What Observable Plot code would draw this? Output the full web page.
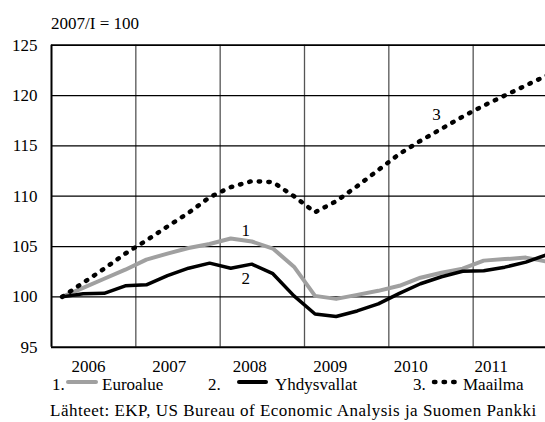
<!DOCTYPE html>
<html><head><meta charset="utf-8">
<script src="https://cdn.jsdelivr.net/npm/d3@7"></script>
<script src="https://cdn.jsdelivr.net/npm/@observablehq/plot@0.6"></script>
<style>
html,body{margin:0;padding:0;background:#fff;overflow:hidden;}
#wrap{position:relative;width:545px;height:422px;font-family:"Liberation Serif","Times New Roman",Times,"DejaVu Serif","Noto Serif",serif;font-size:17px;color:#000;overflow:hidden;}
#wrap svg.plot{position:absolute;left:0;top:0;}
.t{position:absolute;white-space:nowrap;line-height:17px;}
.sw{position:absolute;overflow:visible;}
</style></head><body><div id="wrap"></div>
<script>
// ---- data ----
const quarters = ["2006Q1","2006Q2","2006Q3","2006Q4","2007Q1","2007Q2","2007Q3","2007Q4",
  "2008Q1","2008Q2","2008Q3","2008Q4","2009Q1","2009Q2","2009Q3","2009Q4",
  "2010Q1","2010Q2","2010Q3","2010Q4","2011Q1","2011Q2","2011Q3","2011Q4"];
const euro  = [100, 100.9, 101.8, 102.7, 103.7, 104.3, 104.85, 105.25, 105.8, 105.5, 104.8, 103.0,
               100.1, 99.8, 100.2, 100.6, 101.1, 101.9, 102.4, 102.8, 103.6, 103.75, 103.9, 103.5];
const usa   = [100, 100.3, 100.35, 101.1, 101.2, 102.1, 102.85, 103.35, 102.85, 103.25, 102.3, 100.1,
               98.3, 98.05, 98.6, 99.3, 100.35, 101.3, 102.0, 102.55, 102.6, 102.95, 103.45, 104.2];
const world = [100, 101.4, 102.8, 104.3, 105.6, 107.0, 108.35, 109.9, 110.9, 111.5, 111.4, 110.0,
               108.4, 109.5, 111.0, 112.6, 114.2, 115.5, 116.7, 117.9, 119.0, 120.0, 121.0, 122.0];
const yearLabels = [2006, 2007, 2008, 2009, 2010, 2011];
const yTicks = [95, 100, 105, 110, 115, 120, 125];
const seriesNames = ["Euroalue", "Yhdysvallat", "Maailma"];
const seriesNumbers = ["1", "2", "3"];
const title = "2007/I = 100";
const source = "Lähteet: EKP, US Bureau of Economic Analysis ja Suomen Pankki";

// ---- build ----
const FONT = "'Liberation Serif','Times New Roman',Times,'DejaVu Serif','Noto Serif',serif";
const toX = q => { const [y, n] = q.split("Q"); return +y + (+n - 0.5) / 4; };
const rows = vals => quarters.map((q, i) => ({x: toX(q), v: vals[i]}));
const euroRows = rows(euro), usaRows = rows(usa), worldRows = rows(world);
const GRAY = "#a0a0a0";
const DASH = "1.4 8.2";
const DOT = {strokeWidth: 4.5, strokeDasharray: DASH, strokeLinecap: "round"};

const plot = Plot.plot({
  width: 545, height: 380,
  marginLeft: 51, marginTop: 45, marginRight: 0, marginBottom: 33,
  x: {domain: [2006, 2012], range: [51, 557], axis: null},
  y: {domain: [95, 125], range: [346.7, 44.7], label: null},
  style: {fontFamily: FONT, fontSize: "17px", background: "transparent", overflow: "hidden", color: "#000"},
  marks: [
    Plot.ruleX([2007, 2008, 2009, 2010, 2011, 2012], {y1: 95, y2: 125, stroke: "#555", strokeWidth: 1.3}),
    Plot.ruleY(yTicks.slice(1, -1), {stroke: "#000", strokeWidth: 1.2}),
    Plot.ruleY([125], {stroke: "#000", strokeWidth: 1.8}),
    Plot.ruleX([2006], {y1: 95, y2: 125, stroke: "#000", strokeWidth: 2}),
    Plot.ruleY([95], {stroke: "#000", strokeWidth: 2}),
    Plot.axisY(yTicks, {tickSize: 0, tickPadding: 14, fontSize: 17, label: null}),
    Plot.text(yearLabels, {x: d => d + 0.44 - 0.045 * (d - 2006), y: () => 95, dy: 19.5, text: d => String(d), fontSize: 17}),
    Plot.line(euroRows, {x: "x", y: "v", stroke: GRAY, strokeWidth: 4, strokeLinejoin: "round"}),
    Plot.line(usaRows, {x: "x", y: "v", stroke: "#000", strokeWidth: 3.5, strokeLinejoin: "round"}),
    Plot.line(worldRows, {x: "x", y: "v", stroke: "#000", ...DOT}),
    Plot.text([euroRows[8]], {x: "x", y: "v", text: () => seriesNumbers[0], dx: 15, dy: -8, fontSize: 17}),
    Plot.text([usaRows[9]], {x: "x", y: "v", text: () => seriesNumbers[1], dx: -6, dy: 14, fontSize: 17}),
    Plot.text([worldRows[17]], {x: "x", y: "v", text: () => seriesNumbers[2], dx: 16, dy: -26, fontSize: 17})
  ]
});

const wrap = document.getElementById("wrap");
wrap.appendChild(plot);

function addText(str, left, top) {
  const d = document.createElement("div");
  d.className = "t"; d.textContent = str;
  d.style.left = left + "px"; d.style.top = top + "px";
  wrap.appendChild(d);
  return d;
}
function addSwatch(left, width, y, opts) {
  const ns = "http://www.w3.org/2000/svg";
  const s = document.createElementNS(ns, "svg");
  s.setAttribute("class", "sw");
  s.setAttribute("width", width + 8); s.setAttribute("height", 10);
  s.style.left = (left - 4) + "px"; s.style.top = (y - 5) + "px";
  const l = document.createElementNS(ns, "line");
  l.setAttribute("x1", 4); l.setAttribute("x2", 4 + width);
  l.setAttribute("y1", 5); l.setAttribute("y2", 5);
  l.setAttribute("stroke", opts.stroke);
  l.setAttribute("stroke-width", opts.width);
  if (opts.dash) l.setAttribute("stroke-dasharray", opts.dash);
  l.setAttribute("stroke-linecap", opts.cap || "butt");
  s.appendChild(l);
  wrap.appendChild(s);
}

addText(title, 51, 15);
// legend
addText(seriesNumbers[0] + ".", 52, 376);
addSwatch(68, 28, 382, {stroke: GRAY, width: 4, cap: "round"});
addText(seriesNames[0], 102, 376);
addText(seriesNumbers[1] + ".", 208, 376);
addSwatch(239, 27, 382, {stroke: "#000", width: 4, cap: "round"});
addText(seriesNames[1], 275, 376);
addText(seriesNumbers[2] + ".", 413, 376);
addSwatch(434, 22, 382, {stroke: "#000", width: 4.5, dash: "1.4 8.2", cap: "round"});
addText(seriesNames[2], 463, 376);
// source (kept fully visible inside the page)
const src = addText(source, 50, 402);
src.style.letterSpacing = "0.5px";
</script></body></html>
